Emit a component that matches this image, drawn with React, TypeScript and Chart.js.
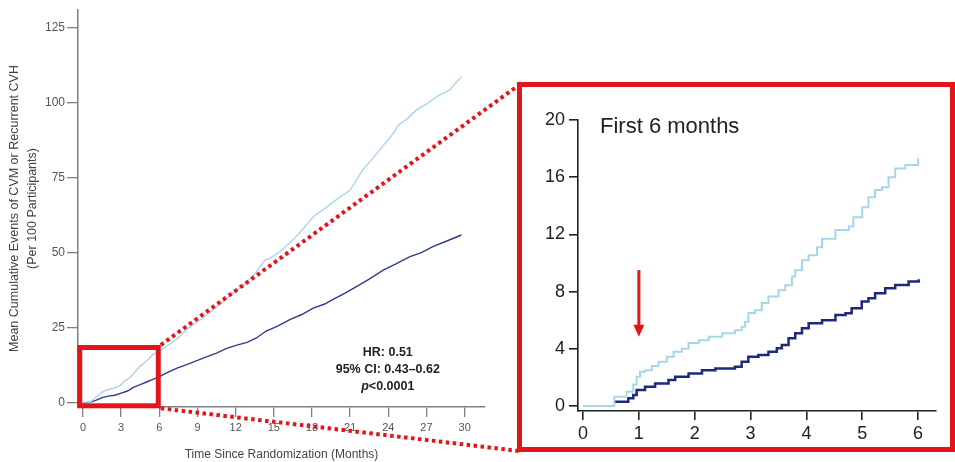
import React, { useEffect, useRef } from "react";
import { Chart, registerables } from "chart.js";

Chart.register(...registerables);

const FONT = "'Liberation Sans', Arial, Helvetica, sans-serif";
const RED = "#e3151b";
const LIGHT = "#a6d6ea";
const DARK_MAIN = "#2f3b8f";
const DARK_INSET = "#1d2a7c";

// ---- tick labels ----
const mainXTicks = [0, 3, 6, 9, 12, 15, 18, 21, 24, 27, 30];
const mainYTicks = [0, 25, 50, 75, 100, 125];
const insetXTicks = [0, 1, 2, 3, 4, 5, 6];
const insetYTicks = [0, 4, 8, 12, 16, 20];

// ---- main chart series (months, events per 100) ----
const mainPlaceboMonths = [0, 0.5, 0.9, 1.2, 1.6, 2.0, 2.5, 2.9, 3.3, 3.7, 4.1, 4.5, 5.0, 5.5, 6.0, 6.8, 7.5, 8.3, 9.0, 9.8, 10.5, 11.3, 12.0, 12.8, 13.5, 14.3, 14.7, 15.5, 16.5, 17.2, 18.1, 19.0, 19.9, 21.0, 22.0, 23.1, 24.4, 24.8, 25.5, 26.2, 27.0, 27.8, 28.8, 29.75];
const mainPlacebo = [0, 0.1, 1.5, 2.6, 3.9, 4.5, 5.0, 5.8, 7.4, 8.5, 10.4, 12.3, 14.0, 16.2, 17.2, 19.6, 21.8, 25.0, 27.0, 29.6, 32.0, 34.9, 37.3, 40.0, 43.0, 47.6, 48.2, 50.5, 54.3, 57.5, 62.1, 64.8, 67.7, 71.0, 77.7, 83.2, 89.9, 92.7, 94.8, 97.7, 99.6, 102.1, 104.3, 108.8];

const mainTreatMonths = [0, 0.6, 1.0, 1.5, 2.0, 2.5, 3.0, 3.5, 4.0, 4.5, 5.0, 5.5, 6.0, 6.7, 7.4, 8.2, 9.0, 9.7, 10.5, 11.3, 12.1, 12.9, 13.6, 14.4, 15.3, 16.3, 17.2, 18.1, 19.0, 19.7, 20.6, 21.5, 22.5, 23.6, 24.6, 25.7, 26.6, 27.5, 28.6, 29.75];
const mainTreat = [0, 0.3, 0.9, 1.8, 2.3, 2.6, 3.3, 4.0, 5.3, 6.1, 7.0, 7.9, 8.8, 10.3, 11.6, 12.9, 14.2, 15.4, 16.6, 18.2, 19.3, 20.2, 21.6, 24.0, 25.6, 27.9, 29.5, 31.6, 33.0, 34.6, 36.6, 38.8, 41.3, 44.3, 46.4, 48.8, 50.1, 52.1, 54.0, 56.0];

// ---- inset series (first 6 months, step points: month of jump, new value) ----
const insetPlaceboMonths = [0, 0.56, 0.78, 0.9, 0.96, 1.02, 1.11, 1.23, 1.35, 1.5, 1.62, 1.77, 1.89, 2.07, 2.25, 2.49, 2.72, 2.84, 2.9, 2.96, 3.08, 3.2, 3.32, 3.5, 3.62, 3.74, 3.8, 3.92, 4.04, 4.19, 4.28, 4.52, 4.76, 4.84, 5.0, 5.11, 5.23, 5.35, 5.47, 5.59, 5.77, 6.0];
const insetPlacebo = [0, 0.65, 1.0, 1.5, 2.05, 2.4, 2.5, 2.8, 3.1, 3.45, 3.8, 4.0, 4.4, 4.6, 4.85, 5.08, 5.3, 5.55, 5.9, 6.5, 6.7, 7.2, 7.65, 8.1, 8.45, 9.05, 9.5, 10.2, 10.55, 11.1, 11.7, 12.3, 12.55, 13.2, 13.9, 14.6, 15.1, 15.3, 16.0, 16.6, 16.85, 17.3];

const insetTreatMonths = [0.56, 0.81, 0.9, 0.96, 1.11, 1.29, 1.53, 1.65, 1.89, 2.13, 2.37, 2.72, 2.84, 2.96, 3.14, 3.32, 3.47, 3.56, 3.68, 3.8, 3.92, 4.04, 4.28, 4.52, 4.7, 4.81, 4.99, 5.11, 5.23, 5.41, 5.59, 5.83, 6.01];
const insetTreat = [0.3, 0.55, 0.77, 1.12, 1.35, 1.58, 1.82, 2.05, 2.28, 2.5, 2.63, 2.75, 3.1, 3.45, 3.57, 3.8, 4.03, 4.27, 4.73, 5.08, 5.43, 5.78, 6.0, 6.36, 6.48, 6.83, 7.3, 7.53, 7.88, 8.23, 8.46, 8.7, 8.86];

// ---- text ----
const statsLines = ["HR: 0.51", "95% CI: 0.43\u20130.62", "<0.0001"];
const insetTitle = "First 6 months";

const toXY = (xs: number[], ys: number[]) => xs.map((x, i) => ({ x, y: ys[i] }));

export default function App() {
  const mainRef = useRef<HTMLCanvasElement>(null);
  const insetRef = useRef<HTMLCanvasElement>(null);

  useEffect(() => {
    const mainOverlay = {
      id: "mainOverlay",
      afterDraw(chart: any) {
        const ctx = chart.ctx;
        const xs = chart.scales.x;
        const ys = chart.scales.y;
        ctx.save();
        // zoom region box
        const l = xs.getPixelForValue(-0.25);
        const r = xs.getPixelForValue(5.92);
        const t = ys.getPixelForValue(18.5);
        const b = ys.getPixelForValue(-0.93);
        ctx.strokeStyle = RED;
        ctx.lineWidth = 5;
        ctx.strokeRect(l, t, r - l, b - t);
        // dotted connectors to inset box
        ctx.lineWidth = 4;
        ctx.setLineDash([3.5, 3.5]);
        ctx.beginPath();
        ctx.moveTo(r + 2.5, t - 2.5);
        ctx.lineTo(519, 85);
        ctx.stroke();
        ctx.beginPath();
        ctx.moveTo(r + 2.5, b + 2.5);
        ctx.lineTo(519, 451);
        ctx.stroke();
        ctx.setLineDash([]);
        // stats annotation
        const cx = xs.getPixelForValue(23.96);
        ctx.fillStyle = "#222";
        ctx.textAlign = "center";
        ctx.textBaseline = "middle";
        ctx.font = `bold 12.5px ${FONT}`;
        ctx.fillText(statsLines[0], cx, ys.getPixelForValue(16.7));
        ctx.fillText(statsLines[1], cx, ys.getPixelForValue(11.0));
        const y3 = ys.getPixelForValue(5.6);
        ctx.font = `bold 12.5px ${FONT}`;
        const wRest = ctx.measureText(statsLines[2]).width;
        ctx.font = `italic bold 12.5px ${FONT}`;
        const wP = ctx.measureText("p").width;
        const start = cx - (wP + wRest) / 2;
        ctx.textAlign = "left";
        ctx.fillText("p", start, y3);
        ctx.font = `bold 12.5px ${FONT}`;
        ctx.fillText(statsLines[2], start + wP, y3);
        ctx.restore();
      },
    };

    const mainChart = new Chart(mainRef.current!, {
      type: "line",
      data: {
        datasets: [
          {
            data: toXY(mainPlaceboMonths, mainPlacebo),
            borderColor: LIGHT,
            borderWidth: 1.4,
            pointRadius: 0,
            tension: 0,
          },
          {
            data: toXY(mainTreatMonths, mainTreat),
            borderColor: DARK_MAIN,
            borderWidth: 1.4,
            pointRadius: 0,
            tension: 0,
          },
        ],
      },
      options: {
        animation: false,
        responsive: false,
        maintainAspectRatio: false,
        layout: { padding: { left: 0, top: 10, right: 470, bottom: 0 } },
        plugins: { legend: { display: false }, tooltip: { enabled: false } },
        scales: {
          x: {
            type: "linear",
            min: -0.39,
            max: 31.6,
            afterBuildTicks: (s: any) => {
              s.ticks = mainXTicks.map((v) => ({ value: v }));
            },
            afterFit: (s: any) => {
              s.height = 55;
            },
            grid: { drawOnChartArea: false, drawTicks: true, tickLength: 10, tickColor: "#808080", lineWidth: 1.3 },
            border: { display: true, color: "#808080", width: 1.5 },
            ticks: { font: { family: FONT, size: 11 }, color: "#555", padding: 4, maxRotation: 0, autoSkip: false },
            title: {
              display: true,
              text: "Time Since Randomization (Months)",
              font: { family: FONT, size: 12, lineHeight: 1.2 },
              color: "#444",
              padding: { top: 0, bottom: 0 },
            },
          },
          y: {
            type: "linear",
            min: -1.33,
            max: 131,
            afterBuildTicks: (s: any) => {
              s.ticks = mainYTicks.map((v) => ({ value: v }));
            },
            afterFit: (s: any) => {
              s.width = 78;
            },
            grid: { drawOnChartArea: false, drawTicks: true, tickLength: 11, tickColor: "#808080", lineWidth: 1.3 },
            border: { display: true, color: "#808080", width: 1.5 },
            ticks: { font: { family: FONT, size: 12 }, color: "#555", padding: 2 },
            title: {
              display: true,
              text: ["Mean Cumulative Events of CVM or Recurrent CVH", "(Per 100 Participants)"],
              font: { family: FONT, size: 12.5, lineHeight: "18px" as any },
              color: "#444",
              padding: { top: 6, bottom: 0 },
            },
          },
        },
      } as any,
      plugins: [mainOverlay],
    } as any);

    const insetOverlay = {
      id: "insetOverlay",
      afterDraw(chart: any) {
        const ctx = chart.ctx;
        const xs = chart.scales.x;
        const ys = chart.scales.y;
        ctx.save();
        // red frame
        ctx.strokeStyle = RED;
        ctx.lineWidth = 5;
        ctx.strokeRect(4.5, 4.5, 433, 365);
        // title
        ctx.fillStyle = "#222";
        ctx.font = `22px ${FONT}`;
        ctx.textAlign = "left";
        ctx.textBaseline = "middle";
        ctx.fillText(insetTitle, 85, 47);
        // arrow at month 1
        const ax = xs.getPixelForValue(1);
        const aTop = ys.getPixelForValue(9.5);
        const aTip = ys.getPixelForValue(4.85);
        const headLen = 12;
        ctx.strokeStyle = RED;
        ctx.fillStyle = RED;
        ctx.lineWidth = 3;
        ctx.beginPath();
        ctx.moveTo(ax, aTop);
        ctx.lineTo(ax, aTip - headLen + 1);
        ctx.stroke();
        ctx.beginPath();
        ctx.moveTo(ax - 5.5, aTip - headLen);
        ctx.lineTo(ax + 5.5, aTip - headLen);
        ctx.lineTo(ax, aTip);
        ctx.closePath();
        ctx.fill();
        ctx.restore();
      },
    };

    const insetChart = new Chart(insetRef.current!, {
      type: "line",
      data: {
        datasets: [
          {
            data: toXY(insetPlaceboMonths, insetPlacebo),
            borderColor: LIGHT,
            borderWidth: 2,
            pointRadius: 0,
            stepped: "before",
          },
          {
            data: toXY(insetTreatMonths, insetTreat),
            borderColor: DARK_INSET,
            borderWidth: 2.5,
            pointRadius: 0,
            stepped: "before",
          },
        ],
      },
      options: {
        animation: false,
        responsive: false,
        maintainAspectRatio: false,
        layout: { padding: { left: 0, top: 40, right: 19, bottom: 0 } },
        plugins: { legend: { display: false }, tooltip: { enabled: false } },
        scales: {
          x: {
            type: "linear",
            min: -0.09,
            max: 6.32,
            afterBuildTicks: (s: any) => {
              s.ticks = insetXTicks.map((v) => ({ value: v }));
            },
            afterFit: (s: any) => {
              s.height = 51;
            },
            grid: { drawOnChartArea: false, drawTicks: true, tickLength: 9, tickColor: "#222", lineWidth: 1.6 },
            border: { display: true, color: "#222", width: 1.6 },
            ticks: { font: { family: FONT, size: 18 }, color: "#222", padding: 3, maxRotation: 0, autoSkip: false },
          },
          y: {
            type: "linear",
            min: -0.35,
            max: 20,
            afterBuildTicks: (s: any) => {
              s.ticks = insetYTicks.map((v) => ({ value: v }));
            },
            afterFit: (s: any) => {
              s.width = 63;
            },
            grid: { drawOnChartArea: false, drawTicks: true, tickLength: 9, tickColor: "#222", lineWidth: 1.6 },
            border: { display: true, color: "#222", width: 1.6 },
            ticks: { font: { family: FONT, size: 18 }, color: "#222", padding: 4 },
          },
        },
      } as any,
      plugins: [insetOverlay],
    } as any);

    return () => {
      mainChart.destroy();
      insetChart.destroy();
    };
  }, []);

  return (
    <div style={{ position: "absolute", left: 0, top: 0, width: 955, height: 462, background: "#fff", overflow: "hidden" }}>
      <canvas
        ref={mainRef}
        width={955}
        height={462}
        style={{ position: "absolute", left: 0, top: 0, width: 955, height: 462 }}
      />
      <canvas
        ref={insetRef}
        width={440}
        height={382}
        style={{ position: "absolute", left: 515, top: 80, width: 440, height: 382 }}
      />
    </div>
  );
}
